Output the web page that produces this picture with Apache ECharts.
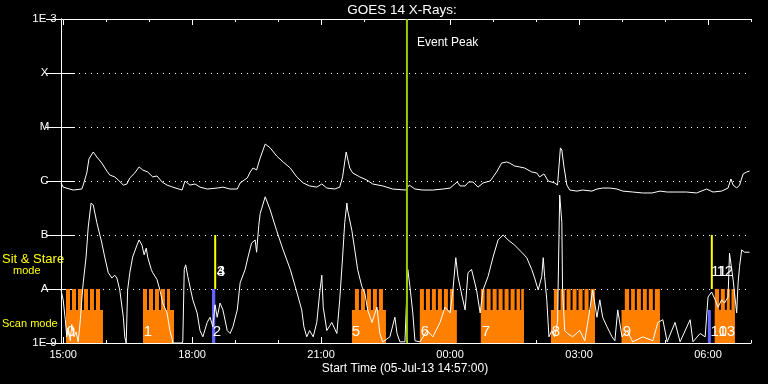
<!DOCTYPE html>
<html>
<head>
<meta charset="utf-8">
<script src="https://cdn.jsdelivr.net/npm/echarts@6/dist/echarts.min.js"></script>
<style>
html,body{margin:0;padding:0;background:#000;}
#chart{width:768px;height:384px;}
</style>
</head>
<body>
<div id="chart"></div>
<script>
// ---- time axis: minutes after start time 14:57 ----
const startTimeText = 'Start Time (05-Jul-13 14:57:00)';
const xMax = 963;
const xTickValues = [3, 183, 363, 543, 723, 903];
const xTickLabels = ['15:00', '18:00', '21:00', '00:00', '03:00', '06:00'];
const hourTickValues = [3, 63, 123, 183, 243, 303, 363, 423, 483, 543, 603, 663, 723, 783, 843, 903, 963];
const yTickLabels = ['1E-9', 'A', 'B', 'C', 'M', 'X', '1E-3'];

// ---- GOES 14 long channel (1-8 A), [minute, W/m^2] ----
const longChannel = [
[0,9.2e-7],[3,7.7e-7],[17,6.8e-7],[29,7.1e-7],[31,8.4e-7],[36,1.41e-6],[39,2.55e-6],[45,3.45e-6],[50,2.78e-6],[57,2.15e-6],
[64,1.53e-6],[68,1.29e-6],[75,1.19e-6],[80,1.04e-6],[87,8.4e-7],[92,8.8e-7],[96,1.14e-6],[103,1.41e-6],[109,1.82e-6],[114,1.6e-6],
[121,1.47e-6],[128,1.19e-6],[134,1.24e-6],[141,9.6e-7],[148,8.4e-7],[156,7.7e-7],[169,6.8e-7],[173,1.0e-6],[180,8.4e-7],[187,8.8e-7],
[194,7.7e-7],[204,7.1e-7],[218,7.4e-7],[226,7.7e-7],[236,7.1e-7],[246,7.1e-7],[250,9.2e-7],[260,1.14e-6],[264,1.47e-6],[268,1.74e-6],
[273,1.6e-6],[278,2.67e-6],[285,4.84e-6],[292,4.1e-6],[301,2.9e-6],[310,2.25e-6],[320,1.74e-6],[329,1.19e-6],[338,9.2e-7],[347,8.1e-7],
[357,7.7e-7],[364,8.8e-7],[371,7.4e-7],[382,7.1e-7],[389,7.7e-7],[393,1.19e-6],[398,3.45e-6],[400,3.3e-6],[403,1.74e-6],[407,1.41e-6],
[417,1.19e-6],[427,1.04e-6],[435,8.8e-7],[449,8.1e-7],[463,7.1e-7],[481,6.8e-7],[486,8.4e-7],[494,7.1e-7],[505,6.8e-7],[519,6.8e-7],
[533,7.1e-7],[543,7.4e-7],[553,9.6e-7],[557,8.1e-7],[564,8.1e-7],[569,9.6e-7],[575,9.6e-7],[582,7.7e-7],[589,9.2e-7],[599,1.0e-6],
[608,1.47e-6],[615,2.15e-6],[622,2.25e-6],[626,2.15e-6],[633,1.9e-6],[640,1.82e-6],[647,1.74e-6],[657,1.47e-6],[664,1.41e-6],[668,1.19e-6],
[674,1.35e-6],[680,1.0e-6],[689,9.2e-7],[693,8.4e-7],[697,4.1e-6],[699,3.75e-6],[702,1.82e-6],[706,8.4e-7],[710,6.8e-7],[720,6.5e-7],
[728,6.8e-7],[741,6.5e-7],[748,7.1e-7],[756,7.4e-7],[766,7.4e-7],[776,7.1e-7],[784,6.5e-7],[798,6.25e-7],[812,6.0e-7],[825,6.0e-7],
[836,6.5e-7],[846,6.25e-7],[860,6.25e-7],[873,6.25e-7],[887,6.0e-7],[901,7.1e-7],[910,6.25e-7],[922,6.5e-7],[931,7.4e-7],[935,1.09e-6],
[938,8.4e-7],[943,7.4e-7],[947,8.4e-7],[952,1.35e-6],[957,1.47e-6],[961,1.53e-6]
];

// ---- GOES 14 short channel (0.5-4 A), [minute, W/m^2] ----
const shortChannel = [
[0,9.6e-9],[3,6.3e-9],[6,2.7e-9],[8,1.3e-9],[10,1.9e-9],[13,1.1e-9],[15,2.2e-9],[18,1.3e-9],[21,1.6e-9],[24,1.05e-9],
[27,2.7e-9],[29,6.3e-9],[31,1.3e-8],[35,3.9e-8],[38,1.4e-7],[42,3.9e-7],[45,3.6e-7],[50,1.7e-7],[57,7.1e-8],[61,3.9e-8],
[66,2.0e-8],[71,1.6e-8],[75,1.8e-8],[78,1.6e-8],[82,9.6e-9],[87,3.0e-9],[89,1.3e-9],[91,1.0e-9],[93,9.6e-9],[96,2.0e-8],
[100,3.9e-8],[106,6.5e-8],[109,8.1e-8],[113,6.5e-8],[116,4.3e-8],[119,5.7e-8],[121,3.9e-8],[126,2.3e-8],[128,2.0e-8],[134,1.5e-8],
[138,9.6e-9],[142,5.5e-9],[148,3.6e-9],[152,1.7e-9],[155,1.2e-9],[156,1.0e-9],[169,1.0e-9],[170,1.1e-9],[172,2.3e-8],[174,2.8e-8],
[177,1.7e-8],[181,9.6e-9],[184,6.3e-9],[190,3.6e-9],[194,1.7e-9],[198,1.3e-9],[204,2.4e-9],[208,3.0e-9],[212,2.0e-9],[215,5.1e-9],
[218,3.0e-9],[222,5.5e-9],[226,4.1e-9],[232,1.7e-9],[236,1.5e-9],[240,2.0e-9],[246,4.1e-9],[250,1.3e-8],[257,2.3e-8],[261,3.9e-8],
[266,7.1e-8],[271,8.1e-8],[273,4.8e-8],[276,1.5e-7],[278,2.5e-7],[285,5.1e-7],[292,2.9e-7],[301,1.2e-7],[310,5.3e-8],[320,2.3e-8],
[327,1.1e-8],[331,7.1e-9],[336,4.1e-9],[339,2.0e-9],[343,1.3e-9],[347,1.7e-9],[352,1.3e-9],[357,2.4e-9],[361,8.4e-9],[364,1.8e-8],
[366,4.6e-9],[371,1.7e-9],[378,2.4e-9],[385,1.5e-9],[389,6.3e-9],[393,3.9e-8],[396,1.7e-7],[399,3.9e-7],[400,2.9e-7],[406,1.2e-7],
[410,5.3e-8],[414,2.3e-8],[420,1.1e-8],[424,8.4e-9],[428,4.1e-9],[434,2.4e-9],[441,4.6e-9],[445,1.5e-9],[449,1.05e-9],[459,1.3e-9],
[466,3.0e-9],[469,1.5e-9],[473,1.05e-9],[480,1.05e-9],[484,2.3e-8],[487,1.1e-8],[491,3.6e-9],[494,1.1e-9],[501,1.05e-9],[511,1.7e-9],
[519,1.3e-9],[529,2.4e-9],[536,4.6e-9],[543,3.6e-9],[547,9.6e-9],[551,3.8e-8],[554,1.7e-8],[560,7.1e-9],[564,4.1e-9],[568,2.0e-8],
[573,2.3e-8],[580,9.6e-9],[585,3.6e-9],[589,9.6e-9],[596,1.7e-8],[603,3.9e-8],[610,8.1e-8],[617,1.0e-7],[624,8.1e-8],[633,6.5e-8],
[643,4.8e-8],[650,3.8e-8],[657,2.3e-8],[661,1.6e-8],[666,9.6e-9],[671,1.7e-8],[673,3.8e-8],[675,1.7e-8],[678,6.3e-9],[681,1.3e-9],
[685,1.7e-9],[689,1.3e-9],[693,2.4e-9],[696,5.5e-7],[699,1.7e-7],[700,9.6e-9],[703,1.7e-9],[707,1.5e-9],[714,1.3e-9],[724,1.7e-9],
[731,1.1e-9],[738,4.1e-9],[742,9.6e-9],[748,3.0e-9],[752,6.3e-9],[756,3.0e-9],[762,2.0e-9],[769,1.3e-9],[773,1.1e-9],[777,4.1e-9],
[783,1.3e-9],[790,1.7e-9],[798,1.05e-9],[812,1.3e-9],[826,1.1e-9],[833,2.4e-9],[840,2.7e-9],[846,1.05e-9],[857,2.4e-9],[864,1.05e-9],
[878,2.7e-9],[882,1.05e-9],[892,1.5e-9],[899,1.3e-9],[903,7.1e-9],[908,8.8e-9],[913,6.3e-9],[917,4.6e-9],[922,6.3e-9],[926,5.5e-9],
[931,7.1e-9],[933,4.6e-8],[938,1.5e-8],[943,3.6e-9],[945,1.3e-8],[947,2.6e-8],[950,5.3e-8],[954,4.8e-8],[961,4.8e-8]
];

// ---- observation timeline (minutes) ----
const scanFloor = 1e-9;
const scanBaseLevel = 4.1e-9;
const scanTopLevel = 1e-8;
const scanBlocks = [[7.0,58.6],[114.4,157.7],[406.0,453.5],[500.9,552.5],[586.0,646.0],[683.7,745.1],[782.3,835.8],[912.5,940.4]];
const scanSteps = [
[7.0,12.6],[15.3,20.9],[23.7,29.3],[32.1,37.7],[40.5,46.0],[48.8,54.4],
[114.4,120.0],[122.8,128.4],[131.2,136.7],[139.5,145.1],[147.9,152.1],
[410.2,415.8],[418.6,424.2],[427.0,432.6],[435.3,440.9],[443.7,449.3],
[500.9,506.5],[509.3,514.9],[517.6,523.2],[526.0,531.6],[534.4,540.0],[542.8,548.4],
[586.0,591.2],[594.0,599.6],[602.4,608.0],[610.7,616.3],[619.1,624.7],[627.5,633.1],[635.8,640.5],[642.3,646.0],
[687.9,693.9],[697.2,703.2],[705.6,711.2],[714.0,719.5],[722.3,727.9],[730.7,736.3],[739.1,745.1],
[786.9,792.9],[795.7,800.9],[803.7,809.3],[812.1,817.6],[820.4,826.0],[828.8,835.8],
[912.5,918.5],[920.9,926.5],[929.3,933.4],[935.8,940.4]
];
const sitStareBlue = [[210.7,215.3,1e-8],[902.8,907.0,4.1e-9]];
const sitStareYellow = [[215.2,1e-8,1e-7],[908.3,1e-8,1e-7]];
const eventPeakTime = 482.8;
const obsLabelText = ['0','1','2','3','4','5','6','7','8','9','10','11','12','13'];
const obsLabelTime = [14.0,121.4,217.7,223.3,223.3,411.6,507.9,593.0,690.7,789.8,918.0,918.1,926.5,929.3];
const obsLabelFlux = [1.6e-9,1.6e-9,1.6e-9,2.1e-8,2.1e-8,1.6e-9,1.6e-9,1.6e-9,1.6e-9,1.6e-9,1.6e-9,2.1e-8,2.1e-8,1.6e-9];

const ORANGE = '#ff8000';
const FONT = '"Liberation Sans", Arial, sans-serif';

function rectRender(fill) {
  return function (params, api) {
    const a = api.coord([api.value(0), api.value(2)]);
    const b = api.coord([api.value(1), scanFloor]);
    return { type: 'rect', shape: { x: a[0], y: a[1], width: b[0] - a[0], height: b[1] - a[1] }, style: { fill: fill } };
  };
}

const chart = echarts.init(document.getElementById('chart'), null, { renderer: 'canvas' });

const xBase = { type: 'value', min: 0, max: xMax, splitLine: { show: false } };
const tickStyle = { color: '#fff', width: 1 };

chart.setOption({
  backgroundColor: '#000',
  animation: false,
  grid: { left: 61, right: 17, top: 19, bottom: 41, containLabel: false },
  xAxis: [
    Object.assign({}, xBase, {
      position: 'bottom',
      axisLine: { show: true, lineStyle: { color: '#fff', width: 1 } },
      axisTick: { show: true, inside: true, length: 6, customValues: xTickValues, lineStyle: tickStyle },
      axisLabel: {
        show: true, customValues: xTickValues, color: '#fff', fontFamily: FONT, fontSize: 11, margin: 6,
        formatter: function (v) { const i = xTickValues.indexOf(Math.round(v)); return i >= 0 ? xTickLabels[i] : ''; }
      }
    }),
    Object.assign({}, xBase, {
      position: 'top',
      axisLine: { show: true, lineStyle: { color: '#fff', width: 1 } },
      axisTick: { show: true, inside: true, length: 6, customValues: xTickValues, lineStyle: tickStyle },
      axisLabel: { show: false }
    }),
    Object.assign({}, xBase, {
      position: 'bottom',
      axisLine: { show: false },
      axisTick: { show: true, inside: true, length: 3, customValues: hourTickValues, lineStyle: tickStyle },
      axisLabel: { show: false }
    }),
    Object.assign({}, xBase, {
      position: 'top',
      axisLine: { show: false },
      axisTick: { show: true, inside: true, length: 3, customValues: hourTickValues, lineStyle: tickStyle },
      axisLabel: { show: false }
    })
  ],
  yAxis: [
    {
      type: 'log', logBase: 10, min: 1e-9, max: 1e-3, position: 'left',
      axisLine: { show: true, lineStyle: { color: '#fff', width: 1 } },
      axisTick: { show: true, inside: true, length: 14, lineStyle: tickStyle },
      minorTick: { show: false },
      axisLabel: {
        show: true, color: '#fff', fontFamily: FONT, fontSize: 11.5, align: 'center', margin: 16.5,
        formatter: function (v) { const e = Math.round(Math.log10(v)); return yTickLabels[e + 9] || ''; }
      },
      splitLine: { show: true, lineStyle: { color: '#fff', width: 1, type: [1, 5] } }
    },
    {
      type: 'log', logBase: 10, min: 1e-9, max: 1e-3, position: 'right',
      axisLine: { show: true, lineStyle: { color: '#fff', width: 1 } },
      axisTick: { show: true, inside: true, length: 15, lineStyle: tickStyle },
      axisLabel: { show: false },
      splitLine: { show: false }
    }
  ],
  series: [
    {
      type: 'custom', name: 'scan', xAxisIndex: 0, yAxisIndex: 0, clip: true, z: 1,
      encode: { x: [0, 1], y: 2 },
      data: scanBlocks.map(function (d) { return [d[0], d[1], scanBaseLevel]; }),
      renderItem: rectRender(ORANGE)
    },
    {
      type: 'custom', name: 'scanSteps', xAxisIndex: 0, yAxisIndex: 0, clip: true, z: 1,
      encode: { x: [0, 1], y: 2 },
      data: scanSteps.map(function (d) { return [d[0], d[1], scanTopLevel]; }),
      renderItem: rectRender(ORANGE)
    },
    {
      type: 'custom', name: 'blue', xAxisIndex: 0, yAxisIndex: 0, clip: true, z: 2,
      encode: { x: [0, 1], y: 2 },
      data: sitStareBlue,
      renderItem: rectRender('#6464ff')
    },
    {
      type: 'custom', name: 'sitStare', xAxisIndex: 0, yAxisIndex: 0, clip: true, z: 2,
      encode: { x: 0, y: [1, 2] },
      data: sitStareYellow,
      renderItem: function (params, api) {
        const a = api.coord([api.value(0), api.value(2)]);
        const b = api.coord([api.value(0), api.value(1)]);
        return { type: 'rect', shape: { x: a[0] - 1, y: a[1], width: 2, height: b[1] - a[1] }, style: { fill: '#ffff00' } };
      }
    },
    {
      type: 'line', name: 'short', xAxisIndex: 0, yAxisIndex: 0, data: shortChannel,
      showSymbol: false, symbol: 'none', lineStyle: { color: '#fff', width: 1 }, z: 3, clip: true
    },
    {
      type: 'line', name: 'long', xAxisIndex: 0, yAxisIndex: 0, data: longChannel,
      showSymbol: false, symbol: 'none', lineStyle: { color: '#fff', width: 1 }, z: 3, clip: true
    },
    {
      type: 'line', name: 'Event Peak', xAxisIndex: 0, yAxisIndex: 0,
      data: [[eventPeakTime, 1e-9], [eventPeakTime, 1e-3]],
      showSymbol: false, symbol: 'none', lineStyle: { color: '#99cc00', width: 2 }, z: 4, clip: true
    },
    {
      type: 'custom', name: 'labels', xAxisIndex: 0, yAxisIndex: 0, z: 5, clip: false,
      encode: { x: 0, y: 1 },
      data: obsLabelTime.map(function (t, i) { return [t, obsLabelFlux[i], i]; }),
      renderItem: function (params, api) {
        const p = api.coord([api.value(0), api.value(1)]);
        return {
          type: 'text', x: p[0], y: p[1],
          style: {
            text: obsLabelText[api.value(2)], fill: '#ffffff', fontFamily: FONT, fontSize: 15,
            align: 'center', verticalAlign: 'middle'
          }
        };
      }
    }
  ],
  graphic: [
    { type: 'text', x: 402, y: 10, style: { text: 'GOES 14 X-Rays:', fill: '#fff', font: '13.5px ' + FONT, align: 'center', verticalAlign: 'middle', textAlign: 'center', textVerticalAlign: 'middle' } },
    { type: 'text', x: 417, y: 43, style: { text: 'Event Peak', fill: '#fff', font: '12px ' + FONT, align: 'left', verticalAlign: 'middle', textAlign: 'left', textVerticalAlign: 'middle' } },
    { type: 'text', x: 405, y: 369, style: { text: startTimeText, fill: '#fff', font: '12px ' + FONT, align: 'center', verticalAlign: 'middle', textAlign: 'center', textVerticalAlign: 'middle' } },
    { type: 'text', x: 2, y: 259.5, style: { text: 'Sit & Stare', fill: '#ffff00', font: '13px ' + FONT, align: 'left', verticalAlign: 'middle', textAlign: 'left', textVerticalAlign: 'middle' } },
    { type: 'text', x: 13, y: 271, style: { text: 'mode', fill: '#ffff00', font: '11px ' + FONT, align: 'left', verticalAlign: 'middle', textAlign: 'left', textVerticalAlign: 'middle' } },
    { type: 'text', x: 2, y: 324, style: { text: 'Scan mode', fill: '#ffff00', font: '11px ' + FONT, align: 'left', verticalAlign: 'middle', textAlign: 'left', textVerticalAlign: 'middle' } }
  ]
});
</script>
</body>
</html>
